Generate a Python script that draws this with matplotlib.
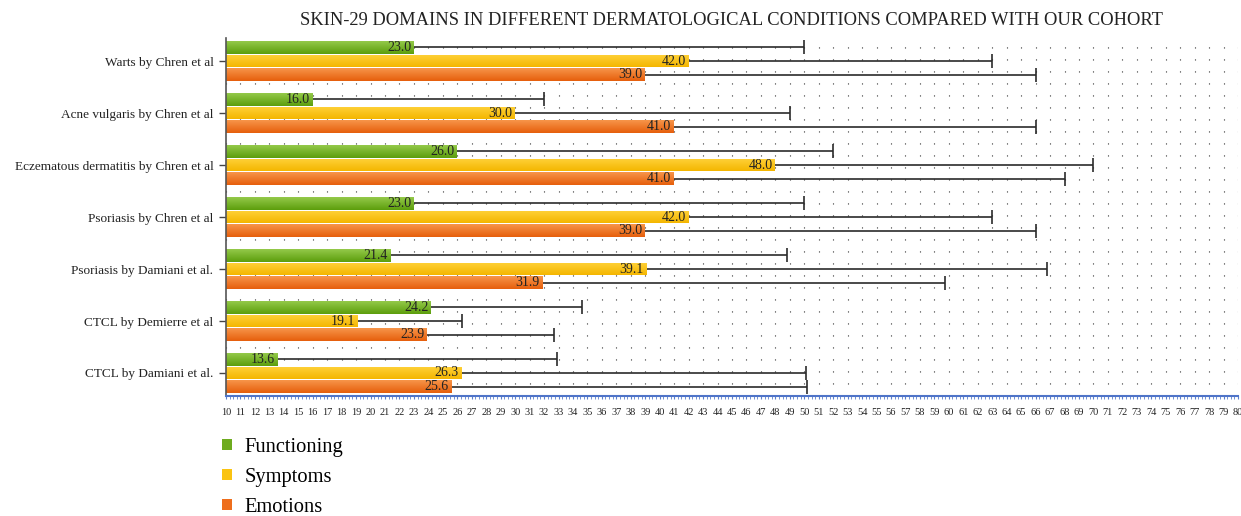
import numpy as np
import matplotlib
matplotlib.use("Agg")
import matplotlib.pyplot as plt
from matplotlib.patches import Patch
from matplotlib.ticker import MultipleLocator
from matplotlib.colors import LinearSegmentedColormap

plt.rcParams['font.family'] = ['Liberation Serif', 'DejaVu Serif']

categories = ["Warts by Chren et al", "Acne vulgaris by Chren et al",
              "Eczematous dermatitis by Chren et al", "Psoriasis by Chren et al",
              "Psoriasis by Damiani et al.", "CTCL by Demierre et al",
              "CTCL by Damiani et al."]
series = ["Functioning", "Symptoms", "Emotions"]
functioning = [23.0, 16.0, 26.0, 23.0, 21.4, 24.2, 13.6]
symptoms = [42.0, 30.0, 48.0, 42.0, 39.1, 19.1, 26.3]
emotions = [39.0, 41.0, 41.0, 39.0, 31.9, 23.9, 25.6]
functioning_sd = [27.0, 16.0, 26.0, 27.0, 27.4, 10.4, 19.3]
symptoms_sd = [21.0, 19.0, 22.0, 21.0, 27.7, 7.2, 23.8]
emotions_sd = [27.0, 25.0, 27.0, 27.0, 27.8, 8.8, 24.6]
title = "SKIN-29 DOMAINS IN DIFFERENT DERMATOLOGICAL CONDITIONS COMPARED WITH OUR COHORT"

values = [functioning, symptoms, emotions]
sds = [functioning_sd, symptoms_sd, emotions_sd]
grad = [("#94c94a", "#5c9e0c"), ("#ffd23a", "#f4b600"), ("#f7954a", "#e65f0c")]
solid = ["#6eab1f", "#fac311", "#ee6e1c"]

fig = plt.figure(figsize=(12.41, 5.16), dpi=100)
ax = fig.add_axes([0.1821, 0.2318, 0.8155, 0.6952])

y = np.arange(len(categories))
bh = 0.245
offs = [-0.262, 0.0, 0.262]

for i in range(3):
    bars = ax.barh(y + offs[i], values[i], height=bh, color=solid[i], zorder=2,
                   linewidth=0)
    cmap = LinearSegmentedColormap.from_list("g%d" % i, [grad[i][0], grad[i][1]])
    for b in bars:
        x0, y0, w, h = b.get_x(), b.get_y(), b.get_width(), b.get_height()
        im = ax.imshow(np.linspace(0, 1, 64).reshape(-1, 1), cmap=cmap,
                       aspect='auto', extent=(x0, x0 + w, y0 + h, y0),
                       zorder=2.1, interpolation='bilinear')
        im.set_clip_path(b.get_path(), b.get_transform())
    eb = ax.errorbar(values[i], y + offs[i],
                     xerr=[np.zeros(len(categories)), sds[i]],
                     fmt='none', ecolor='#2b2b2b', elinewidth=1.2, capsize=5,
                     capthick=1.2, zorder=3)
    eb[1][0].set_visible(False)
    for v, yy in zip(values[i], y + offs[i]):
        ax.annotate("%.1f" % v, (v, yy), xytext=(-2, 0), textcoords='offset points',
                    ha='right', va='center', fontsize=10, color='#222222', zorder=4)

ax.set_aspect('auto')
ax.set_xlim(10, 80)
ax.set_ylim(6.45, -0.45)

ax.xaxis.set_major_locator(MultipleLocator(1))
ax.xaxis.set_minor_locator(MultipleLocator(0.25))
ax.grid(True, which='major', axis='x', color='#333333', linewidth=0.8,
        linestyle=(0, (1.0, 9.8)), zorder=0)
ax.set_axisbelow(True)

ax.set_yticks(y)
ax.set_yticklabels(categories, fontsize=9.5, color='#222222')
ax.tick_params(axis='y', length=5, width=1, color='#444444', pad=4)
ax.tick_params(axis='x', which='major', length=2, color='#5b7fcf', labelsize=7.5,
               pad=6, labelcolor='#222222')
ax.tick_params(axis='x', which='minor', length=2, color='#5b7fcf')

for s in ['top', 'right']:
    ax.spines[s].set_visible(False)
ax.spines['left'].set_color('#555555')
ax.spines['left'].set_linewidth(1.2)
ax.spines['bottom'].set_color('#4f74c8')
ax.spines['bottom'].set_linewidth(1.5)

fig.text(0.589, 0.961, title, ha='center', va='center', fontsize=13.3,
         color='#222222')

handles = [Patch(facecolor=solid[i], edgecolor='none') for i in range(3)]
fig.legend(handles, series, loc='upper left', bbox_to_anchor=(0.1705, 0.172),
           frameon=False, fontsize=14.8, handlelength=0.47, handleheight=0.47,
           handletextpad=0.62, labelspacing=0.55, borderpad=0)

fig.savefig("out.png", dpi=100)
